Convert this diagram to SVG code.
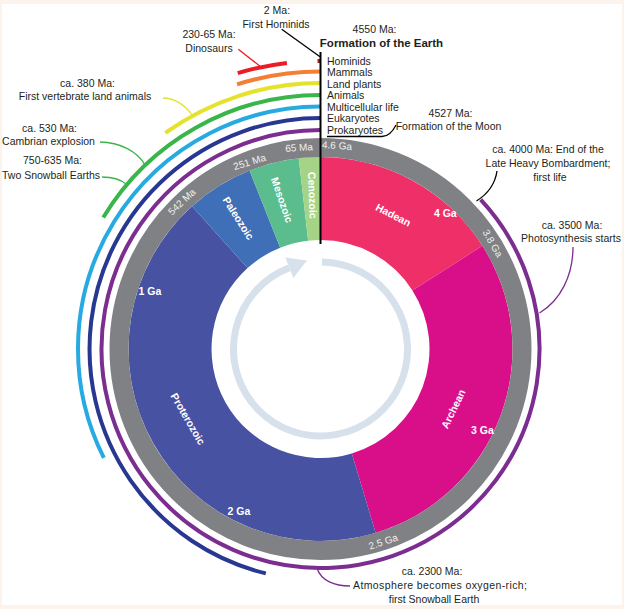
<svg xmlns="http://www.w3.org/2000/svg" width="624" height="609" viewBox="0 0 624 609">
<style>
.t{font-family:"Liberation Sans",Arial,sans-serif;font-size:10.5px;fill:#231f20;text-anchor:middle}
.l{text-anchor:start}
.b{font-weight:bold;font-size:11.5px}
.w{fill:#ffffff;font-weight:bold}
.g{fill:#eeeeee;font-size:10px}
.arc{fill:none;stroke-width:4;stroke-linecap:butt}
.co{fill:none;stroke-width:1.3}
</style>
<rect x="0" y="0" width="624" height="609" fill="#fcf4ec"/>
<rect x="2" y="4" width="620" height="601" fill="#ffffff"/>

<g id="clock">
  <g id="hadean"><path d="M320.5,157 A192,192 0 0 1 482.43,245.84 L412.43,290.43 A109,109 0 0 0 320.5,240 Z" fill="#ef3068"/></g>
  <g id="archean"><path d="M482.43,245.84 A192,192 0 0 1 375.68,532.9 L351.83,453.4 A109,109 0 0 0 412.43,290.43 Z" fill="#d90f8a"/></g>
  <g id="proterozoic"><path d="M375.68,532.9 A192,192 0 0 1 192.03,206.32 L247.57,268 A109,109 0 0 0 351.83,453.4 Z" fill="#4752a3"/></g>
  <g id="paleozoic"><path d="M192.03,206.32 A192,192 0 0 1 249.52,170.61 L280.2,247.73 A109,109 0 0 0 247.57,268 Z" fill="#3f6fb7"/></g>
  <g id="mesozoic"><path d="M249.52,170.61 A192,192 0 0 1 298.77,158.23 L308.16,240.7 A109,109 0 0 0 280.2,247.73 Z" fill="#5bbd8d"/></g>
  <g id="cenozoic"><path d="M298.77,158.23 A192,192 0 0 1 320.5,157 L320.5,240 A109,109 0 0 0 308.16,240.7 Z" fill="#a6d487"/></g>
  <g id="ring"><circle cx="320.5" cy="349" r="201.5" fill="none" stroke="#808184" stroke-width="19"/></g>
  <g id="cycle-arrow">
    <path d="M322.02,262.01 A87,87 0 1 1 289.32,267.78" fill="none" stroke="#d7e1ec" stroke-width="7"/>
    <polygon points="307,260.5 285.4,257.5 293.3,278" fill="#d7e1ec"/>
  </g>
</g>

<g id="ring-labels" class="t g">
  <text class="t g" transform="translate(337,145.5) rotate(4)" dy="0.35em">4.6 Ga</text>
  <text class="t g" transform="translate(299,147.5) rotate(-4)" dy="0.35em">65 Ma</text>
  <text class="t g" transform="translate(249.5,162) rotate(-17)" dy="0.35em">251 Ma</text>
  <text class="t g" transform="translate(181.7,201.7) rotate(-43)" dy="0.35em">542 Ma</text>
  <text class="t g" transform="translate(492.7,243.3) rotate(60)" dy="0.35em">3.8 Ga</text>
  <text class="t g" transform="translate(383.3,541.7) rotate(-18)" dy="0.35em">2.5 Ga</text>
</g>

<g id="era-labels">
  <text class="t w" transform="translate(393.3,215) rotate(27)" dy="0.35em">Hadean</text>
  <text class="t w" x="445.3" y="213" dy="0.35em">4 Ga</text>
  <text class="t w" transform="translate(453.3,409) rotate(-64.5)" dy="0.35em">Archean</text>
  <text class="t w" x="482.5" y="430" dy="0.35em">3 Ga</text>
  <text class="t w" transform="translate(188,419) rotate(60)" dy="0.35em">Proterozoic</text>
  <text class="t w" x="150" y="291" dy="0.35em">1 Ga</text>
  <text class="t w" x="239" y="511" dy="0.35em">2 Ga</text>
  <text class="t w" transform="translate(238.3,218.3) rotate(57.6)" dy="0.35em">Paleozoic</text>
  <text class="t w" transform="translate(282,200) rotate(71)" dy="0.35em">Mesozoic</text>
  <text class="t w" transform="translate(312.5,195.3) rotate(88)" dy="0.35em">Cenozoic</text>
</g>

<g id="life-arcs">
  <g id="prokaryotes-arc"><path class="arc" d="M480.67,199.64 A219,219 0 1 1 320.5,130" stroke="#7b2d90"/></g>
  <g id="eukaryotes-arc"><path class="arc" d="M265.8,573.42 A231,231 0 0 1 320.5,118" stroke="#283891"/></g>
  <g id="multicellular-arc"><path class="arc" d="M103.85,457.96 A242.5,242.5 0 0 1 320.5,106.5" stroke="#27aae1"/></g>
  <g id="animals-arc"><path class="arc" d="M103.23,217.43 A254,254 0 0 1 320.5,95" stroke="#39b54a"/></g>
  <g id="landplants-arc"><path class="arc" d="M165.29,132.98 A266,266 0 0 1 320.5,83" stroke="#e5e22b"/></g>
  <g id="mammals-arc"><path class="arc" d="M237.05,84.35 A277.5,277.5 0 0 1 320.5,71.5" stroke="#f47f34"/></g>
  <g id="dinosaurs-arc"><path class="arc" d="M237.73,73.15 A288,288 0 0 1 286.89,62.96" stroke="#ec1c24"/></g>
  <g id="hominids-arc"><path class="arc" d="M317.5,61.02 A288,288 0 0 1 320.5,61" stroke="#a0282a" stroke-width="3"/></g>
</g>

<g id="connectors">
  <line x1="320.5" y1="52" x2="320.5" y2="244" stroke="#000" stroke-width="2"/>
  <line x1="281.7" y1="29.3" x2="320" y2="56.7" stroke="#000" stroke-width="1.3"/>
  <line x1="238.3" y1="49.3" x2="261.7" y2="67.5" stroke="#ec1c24" stroke-width="1.3"/>
  <path class="co" d="M327,136.5 L382,136.5 C389,136.5 393,131 396,125" stroke="#000"/>
  <path class="co" d="M497,171 C495,185 486,195 476.5,201" stroke="#000"/>
  <path class="co" d="M573,247 C573,275 561,300 539.5,313" stroke="#7b2d90"/>
  <path class="co" d="M350,586 C335,586 321,581 317,568" stroke="#7b2d90"/>
  <path class="co" d="M163,98 C175,98 186,106 192,115" stroke="#e5e22b"/>
  <path class="co" d="M100,142 C120,142 138,152 145,165" stroke="#39b54a"/>
  <path class="co" d="M102,177 C112,177 120,179 126,184" stroke="#39b54a"/>
</g>

<g id="life-labels">
  <text class="t l" x="327" y="64.5">Hominids</text>
  <text class="t l" x="327" y="76">Mammals</text>
  <text class="t l" x="327" y="87.5">Land plants</text>
  <text class="t l" x="327" y="99">Animals</text>
  <text class="t l" x="327" y="110.5">Multicellular life</text>
  <text class="t l" x="327" y="122">Eukaryotes</text>
  <text class="t l" x="327" y="133.5">Prokaryotes</text>
</g>

<g id="annotations">
  <g id="hominids-note"><text class="t" x="277" y="14">2 Ma:</text><text class="t" x="276" y="28">First Hominids</text></g>
  <g id="dinosaurs-note"><text class="t" x="209" y="38">230-65 Ma:</text><text class="t" x="209" y="52">Dinosaurs</text></g>
  <g id="earth-note"><text class="t" x="374.5" y="33">4550 Ma:</text><text class="t b" x="381.5" y="46.5">Formation of the Earth</text></g>
  <g id="moon-note"><text class="t" x="450.5" y="116.5">4527 Ma:</text><text class="t" x="448.5" y="130">Formation of the Moon</text></g>
  <g id="lhb-note"><text class="t" x="548" y="152.5">ca. 4000 Ma: End of the</text><text class="t" x="548" y="166.5">Late Heavy Bombardment;</text><text class="t" x="550" y="180.5">first life</text></g>
  <g id="photosynthesis-note"><text class="t" x="572" y="228.5">ca. 3500 Ma:</text><text class="t" x="571" y="242">Photosynthesis starts</text></g>
  <g id="oxygen-note"><text class="t" x="432" y="575">ca. 2300 Ma:</text><text class="t" x="440" y="589" textLength="174" lengthAdjust="spacing">Atmosphere becomes oxygen-rich;</text><text class="t" x="434" y="602.5">first Snowball Earth</text></g>
  <g id="vertebrate-note"><text class="t" x="87.5" y="87">ca. 380 Ma:</text><text class="t" x="85" y="100">First vertebrate land animals</text></g>
  <g id="cambrian-note"><text class="t" x="49.5" y="131.5">ca. 530 Ma:</text><text class="t" x="48.5" y="145">Cambrian explosion</text></g>
  <g id="snowball-note"><text class="t" x="52.5" y="164">750-635 Ma:</text><text class="t" x="51" y="179">Two Snowball Earths</text></g>
</g>
</svg>
